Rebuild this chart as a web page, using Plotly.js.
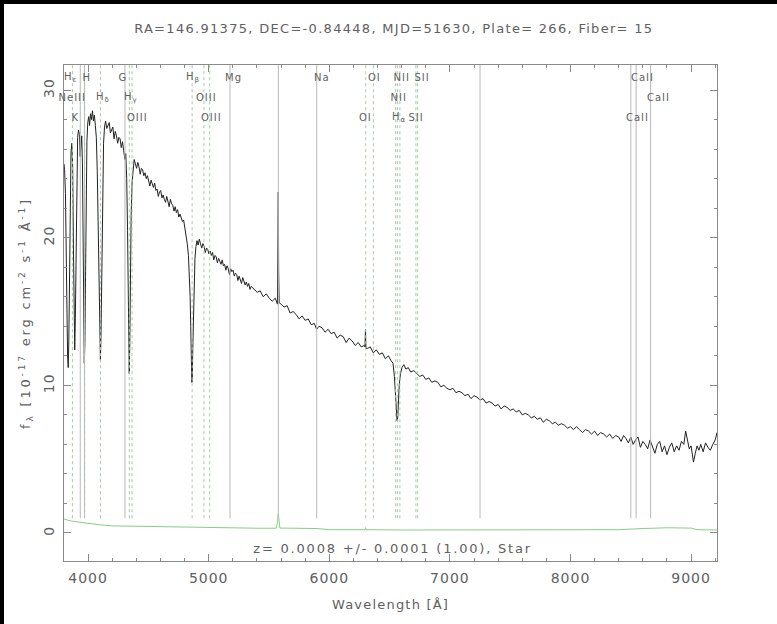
<!DOCTYPE html>
<html>
<head>
<meta charset="utf-8">
<script src="https://cdn.plot.ly/plotly-3.0.1.min.js"></script>
<style>
  html, body { margin: 0; padding: 0; background: #fff; }
  #wrap { position: relative; width: 777px; height: 624px; overflow: hidden; }
  #chart { position: absolute; left: 0; top: 0; width: 777px; height: 624px; }
  #chart svg text { letter-spacing: 1px; }
  #chart .gtitle { letter-spacing: 1.3px; }
  #chart .ytitle { letter-spacing: 2.8px; }
  #chart .xtitle { letter-spacing: 1.2px; }
  #chart .annotation[data-index="0"] text { letter-spacing: 1.8px; }
  .edge { position: absolute; background: #000; }
</style>
</head>
<body>
<div id="wrap">
  <div id="chart"></div>
  <div class="edge" style="left:0;top:0;width:777px;height:4px;"></div>
  <div class="edge" style="left:0;top:0;width:4px;height:624px;"></div>
</div>
<script>
// Observed wavelength grid (Angstrom) and flux (1e-17 erg/cm^2/s/A)
const wave = [
  3800,3805,3812,3818,3824,3830,3835,3840,3846,3852,3858,3865,3872,3878,3884,3889,3894,3900,3906,3913,
  3920,3928,3934,3940,3947,3953,3958,3963,3968,3973,3978,3984,3990,3997,4005,4012,4020,4028,4036,4044,
  4052,4060,4068,4076,4084,4092,4098,4102,4107,4113,4120,4128,4136,4145,4155,4165,4175,4185,4195,4205,
  4215,4225,4235,4245,4255,4265,4275,4285,4295,4305,4312,4320,4327,4333,4338,4341,4345,4350,4357,4365,
  4373,4382,4392,4402,4412,4422,4432,4442,4452,4462,4472,4482,4492,4502,4512,4522,4532,4542,4552,4562,
  4572,4582,4592,4602,4612,4622,4632,4642,4652,4662,4672,4682,4692,4702,4712,4722,4732,4742,4752,4762,
  4772,4782,4792,4802,4812,4822,4832,4840,4846,4851,4856,4860,4864,4868,4873,4879,4886,4894,4903,4912,
  4922,4932,4942,4952,4962,4972,4982,4992,5002,5012,5022,5032,5042,5052,5062,5072,5082,5092,5102,5112,
  5122,5132,5142,5152,5162,5172,5182,5192,5202,5212,5222,5232,5242,5252,5262,5272,5282,5292,5302,5312,
  5322,5332,5342,5352,5377,5402,5427,5452,5477,5502,5527,5552,5570,5574,5577,5580,5584,5600,5625,5650,
  5675,5700,5725,5750,5775,5800,5825,5850,5875,5895,5915,5940,5965,5990,6015,6040,6065,6090,6115,6140,
  6165,6190,6215,6240,6265,6290,6296,6300,6304,6315,6340,6365,6390,6415,6440,6465,6490,6510,6528,6540,
  6550,6557,6562,6567,6573,6580,6590,6603,6618,6635,6655,6675,6700,6725,6750,6775,6800,6825,6850,6875,
  6900,6925,6950,6975,7000,7025,7050,7075,7100,7125,7150,7175,7200,7225,7250,7275,7300,7325,7350,7375,
  7400,7425,7450,7475,7500,7525,7550,7575,7600,7625,7650,7675,7700,7725,7750,7775,7800,7825,7850,7875,
  7900,7925,7950,7975,8000,8025,8050,8075,8100,8125,8150,8175,8200,8225,8250,8275,8300,8325,8350,8375,
  8400,8420,8440,8460,8480,8500,8520,8540,8560,8580,8600,8620,8640,8660,8680,8700,8720,8740,8760,8780,
  8800,8820,8840,8860,8880,8900,8920,8940,8955,8970,8985,9000,9010,9020,9035,9050,9065,9080,9100,9120,
  9140,9160,9180,9200,9215
];
const flux = [
  25.0,24.6,23.0,20.5,15.5,12.0,11.2,13.0,18.5,23.5,25.8,26.4,24.8,19.5,14.0,12.4,14.5,20.0,24.5,26.8,
  27.3,27.0,25.5,26.2,26.9,25.0,20.0,15.0,11.5,12.8,17.5,23.0,26.5,27.8,28.2,27.6,28.4,28.0,28.6,27.9,
  28.3,27.6,26.8,24.5,20.0,15.0,12.0,11.7,13.5,18.5,23.5,26.4,27.5,27.9,27.4,27.6,27.8,27.1,27.3,27.5,
  26.7,27.2,26.9,26.4,26.8,26.7,26.1,26.5,25.9,25.3,25.7,24.0,20.5,15.5,11.5,10.8,12.5,17.0,21.5,23.8,
  24.9,25.3,25.0,24.7,25.1,24.8,24.3,24.7,24.6,24.2,24.4,24.0,24.2,23.9,23.5,23.9,23.6,23.4,23.7,23.2,
  23.3,22.8,23.1,23.2,22.7,22.9,22.6,22.4,22.8,22.5,22.1,22.6,22.3,22.2,21.8,22.1,21.7,21.9,21.4,21.6,
  21.3,21.1,21.2,20.7,20.2,19.6,18.8,17.6,16.0,14.0,11.8,10.2,10.5,12.5,15.0,17.2,18.6,19.4,19.8,19.5,
  19.9,19.6,19.3,19.6,19.4,19.0,19.3,19.2,18.9,19.1,18.8,19.0,18.5,18.8,18.7,18.3,18.6,18.4,18.2,18.5,
  18.1,18.2,17.8,18.1,17.9,17.5,17.9,17.7,17.8,17.4,17.6,17.5,17.1,17.4,17.2,16.9,17.3,17.0,16.8,17.0,
  16.7,16.9,16.5,16.7,16.5,16.3,16.4,16.0,16.2,15.9,15.7,15.9,15.5,18.2,23.1,17.8,15.6,15.5,15.3,15.4,
  14.9,15.0,14.8,14.5,14.7,14.4,14.5,14.1,14.2,13.8,14.0,13.9,13.6,13.8,13.5,13.6,13.2,13.4,13.3,12.9,
  13.2,13.0,12.7,12.9,12.6,12.7,12.6,13.8,12.5,12.5,12.6,12.2,12.4,12.1,12.2,11.8,12.0,11.7,11.5,10.6,
  9.4,8.3,7.6,7.8,8.9,10.0,10.8,11.2,11.4,11.1,11.2,10.9,11.0,10.8,10.6,10.7,10.4,10.5,10.2,10.3,
  10.2,9.9,10.0,9.8,9.7,9.8,9.5,9.6,9.5,9.3,9.4,9.1,9.3,9.2,9.0,9.1,8.8,8.9,8.8,8.6,
  8.7,8.4,8.6,8.5,8.3,8.4,8.2,8.3,8.0,8.1,8.0,7.8,7.9,7.7,7.8,7.5,7.7,7.6,7.4,7.5,
  7.3,7.4,7.3,7.1,7.2,7.0,7.2,7.0,6.8,7.0,6.9,6.7,6.9,6.6,6.8,6.7,6.5,6.7,6.4,6.6,
  6.5,6.2,6.6,6.4,6.1,6.5,6.0,6.3,6.5,5.8,6.2,6.0,5.7,6.3,5.9,5.4,6.0,6.2,5.5,5.9,
  5.3,5.8,6.1,5.5,5.9,5.6,6.2,6.0,6.9,6.3,5.7,5.9,5.3,4.8,5.4,5.9,5.6,6.0,5.5,6.1,
  5.8,5.6,6.0,6.3,6.8
];

// Flux error (same units)
const errWave = [3800,3850,3900,3950,4000,4050,4100,4200,4400,4600,4800,5000,5200,5400,5560,5572,5577,5582,
                 5590,5700,5900,6000,6296,6300,6304,6600,7000,7500,8000,8400,8600,8800,9000,9050,9215];
const errFlux = [0.95,0.82,0.76,0.70,0.66,0.62,0.55,0.48,0.45,0.42,0.38,0.35,0.33,0.32,0.32,0.80,1.30,0.80,
                 0.33,0.32,0.30,0.22,0.22,0.36,0.22,0.20,0.20,0.20,0.20,0.22,0.30,0.35,0.33,0.22,0.20];

// Spectral line markers: rest wavelength, label, label row (1 = top), kind, label nudge in px
const lineWave  = [3869.8, 3934.8, 3969.6, 3971.2, 4102.9, 4305.6, 4341.7, 4364.4, 4862.7, 4960.3, 5008.2,
                   5176.7, 5577.3, 5895.6, 6302.0, 6365.5, 6549.9, 6564.6, 6585.3, 6718.3, 6732.7, 7250.0,
                   8500.4, 8544.4, 8664.5];
const lineName  = ['NeIII', 'K', 'H', 'H<sub>ε</sub>', 'H<sub>δ</sub>', 'G', 'H<sub>γ</sub>', 'OIII', 'H<sub>β</sub>', 'OIII', 'OIII',
                   'Mg', '', 'Na', 'OI', 'OI', 'NII', 'H<sub>α</sub>', 'NII', 'SII', 'SII', '',
                   'CaII', 'CaII', 'CaII'];
const lineRow   = [2, 3, 1, 1, 2, 1, 2, 3, 1, 2, 3,
                   1, 0, 1, 3, 1, 2, 3, 1, 3, 1, 0,
                   3, 1, 2];
const lineKind  = ['em', 'abs', 'abs', 'em', 'em', 'abs', 'em', 'em', 'em', 'em', 'em',
                   'abs', 'abs', 'abs', 'em', 'em', 'em', 'em', 'em', 'em', 'em', 'abs',
                   'abs', 'abs', 'abs'];
const lineNudge = [0, -5, 3, -14, 2, -2, 2, 5, 1, 3, 2,
                   3, 0, 5, 0, 1, 3, 2, 2, 0, 4, 0,
                   7, 6, 8];

const titleText = 'RA=146.91375, DEC=-0.84448, MJD=51630, Plate= 266, Fiber= 15';
const fitText = 'z= 0.0008 +/- 0.0001 (1.00), Star';

const xRange = [3800, 9215];
const yRange = [-1.9, 31.7];
const rowY = {1: 0.974, 2: 0.935, 3: 0.895};

const FONT = 'DejaVu Sans, Verdana, sans-serif';
const TXT = '#606060';
const AX = '#8a8a8a';

const shapes = lineWave.map((w, i) => ({
  type: 'line', xref: 'x', yref: 'y',
  x0: w, x1: w, y0: 1, y1: yRange[1],
  line: lineKind[i] === 'em'
    ? {color: '#a8c8a8', width: 1, dash: 'dot'}
    : {color: '#b8b8b8', width: 1}
}));

// redshift summary first, then the line labels
const annotations = [{
  x: 0.504, xref: 'paper', y: 0.026, yref: 'paper',
  text: fitText, showarrow: false, xanchor: 'center', yanchor: 'middle',
  font: {family: FONT, size: 13, color: TXT}
}];
lineWave.forEach((w, i) => {
  if (!lineName[i]) return;
  annotations.push({
    x: w, xref: 'x', y: rowY[lineRow[i]], yref: 'paper',
    text: lineName[i], showarrow: false, xanchor: 'center', yanchor: 'middle',
    xshift: lineNudge[i],
    font: {family: FONT, size: 10, color: TXT}
  });
});

const traces = [
  {
    x: errWave, y: errFlux, type: 'scatter', mode: 'lines',
    line: {color: '#86cf86', width: 1}, hoverinfo: 'skip'
  },
  {
    x: wave, y: flux, type: 'scatter', mode: 'lines',
    line: {color: '#222222', width: 1}, hoverinfo: 'skip'
  }
];

const axisCommon = {
  showline: true, linecolor: AX, linewidth: 1, mirror: 'ticks',
  ticks: 'inside', tickcolor: AX, tickwidth: 1,
  showgrid: false, zeroline: false,
  tickfont: {family: FONT, size: 14, color: TXT}
};

const layout = {
  width: 777, height: 624,
  margin: {l: 64, r: 60, t: 65, b: 63},
  paper_bgcolor: '#ffffff', plot_bgcolor: '#ffffff',
  showlegend: false,
  title: {
    text: titleText, x: 0.505, xref: 'paper', xanchor: 'center',
    y: 0.955, yref: 'container', yanchor: 'middle',
    font: {family: FONT, size: 13, color: TXT}
  },
  xaxis: Object.assign({}, axisCommon, {
    range: xRange, tick0: 0, dtick: 1000, ticklen: 7,
    minor: {ticks: 'inside', dtick: 200, ticklen: 3, tickcolor: AX},
    ticklabelstandoff: 4,
    title: {text: 'Wavelength [Å]', standoff: 15, font: {family: FONT, size: 13, color: TXT}}
  }),
  yaxis: Object.assign({}, axisCommon, {
    range: yRange, tick0: 0, dtick: 10, ticklen: 7, tickangle: -90,
    minor: {ticks: 'inside', dtick: 2, ticklen: 3, tickcolor: AX},
    ticklabelstandoff: 3,
    title: {
      text: 'f<sub>λ</sub> [10<sup>-17</sup> erg cm<sup>-2</sup> s<sup>-1</sup> Å<sup>-1</sup>]',
      standoff: 7, font: {family: FONT, size: 13, color: TXT}
    }
  }),
  shapes: shapes,
  annotations: annotations
};

Plotly.newPlot('chart', traces, layout, {staticPlot: true, displayModeBar: false});
</script>
</body>
</html>
